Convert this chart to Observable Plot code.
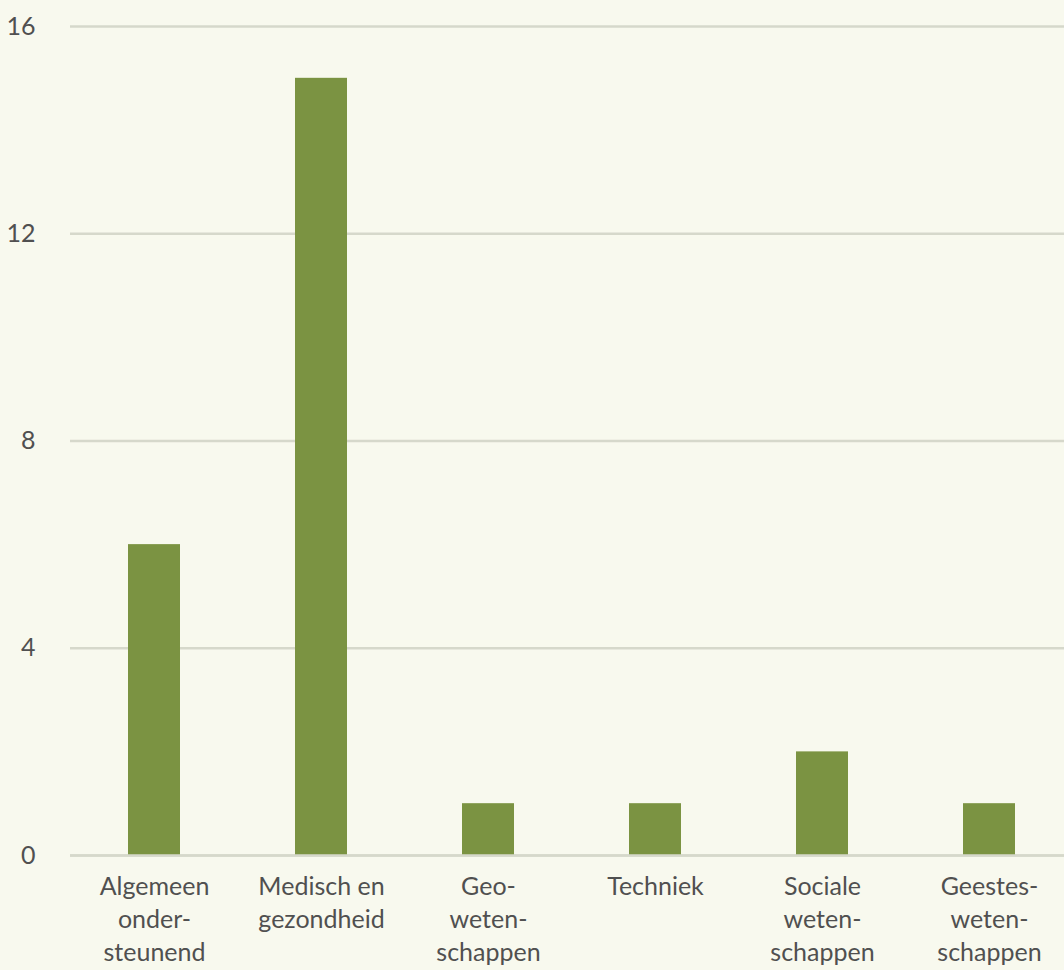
<!DOCTYPE html>
<html>
<head>
<meta charset="utf-8">
<script src="https://cdn.jsdelivr.net/npm/d3@7"></script>
<script src="https://cdn.jsdelivr.net/npm/@observablehq/plot@0.6"></script>
<style>
  html, body { margin: 0; padding: 0; background: #f8f9ee; }
  #chart svg { display: block; }
</style>
</head>
<body>
<div id="chart"></div>
<script>
const categories = [
  "Algemeen\nonder-\nsteunend",
  "Medisch en\ngezondheid",
  "Geo-\nweten-\nschappen",
  "Techniek",
  "Sociale\nweten-\nschappen",
  "Geestes-\nweten-\nschappen"
];
const values = [6, 15, 1, 1, 2, 1];
const yTicks = [0, 4, 8, 12, 16];

const data = categories.map((c, i) => ({category: c, value: values[i]}));

const chart = Plot.plot({
  width: 1064,
  height: 970,
  marginLeft: 70,
  marginRight: -8,
  marginTop: 26,
  marginBottom: 115,
  style: {background: "#f8f9ee", fontFamily: "Lato, 'Open Sans', sans-serif", color: "#505050"},
  x: {domain: categories, paddingInner: 0.69, paddingOuter: 0.345, label: null},
  y: {domain: [0, 16], ticks: yTicks, label: null},
  marks: [
    Plot.ruleY(yTicks, {stroke: "#d6d8cb", strokeWidth: 2.5}),
    Plot.barY(data, {x: "category", y: "value", fill: "#7b9342"}),
    Plot.ruleY([0], {stroke: "#d6d8cb", strokeWidth: 2.5}),
    Plot.axisY({ticks: yTicks, tickSize: 0, tickPadding: 35, fontSize: 25, label: null}),
    Plot.axisX({tickSize: 0, tickPadding: 16, fontSize: 25, lineHeight: 1.32, label: null})
  ]
});
document.getElementById("chart").appendChild(chart);
</script>
</body>
</html>
